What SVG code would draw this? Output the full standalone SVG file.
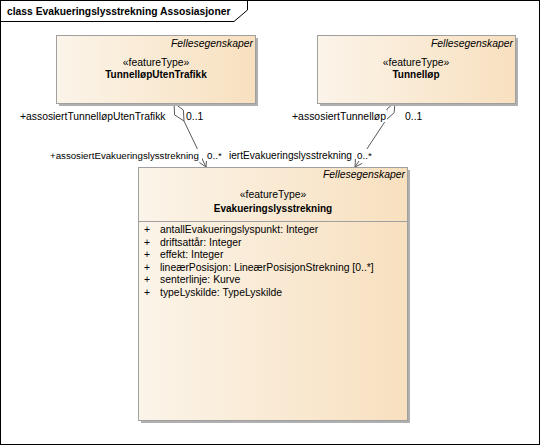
<svg xmlns="http://www.w3.org/2000/svg" width="541" height="446" viewBox="0 0 541 446">
<style>
text{font-family:"Liberation Sans",Arial,sans-serif;font-size:10.4px;fill:#000}
.b{font-weight:bold;font-size:10px}
.t{font-weight:bold;font-size:10.3px}
.i{font-style:italic;text-anchor:end}
.c{text-anchor:middle}
.box{fill:url(#g);stroke:#a0a0a0;stroke-width:1}
.sh{fill:#b0b0b0}
.ln{fill:none;stroke:#5a5a5a;stroke-width:1}
.dm{fill:#fff;stroke:#5a5a5a;stroke-width:1}
.bg{fill:#fff}
</style>
<defs>
<linearGradient id="g" x1="0" y1="0" x2="1" y2="0">
<stop offset="0" stop-color="#fbf4e9"/>
<stop offset="1" stop-color="#f8e0bf"/>
</linearGradient>
</defs>
<rect x="0.5" y="0.5" width="539" height="444" fill="#fff" stroke="#000" stroke-width="1"/>
<path d="M0.5,21.5 H234 L247.5,10 V0.5" fill="none" stroke="#000" stroke-width="1"/>
<text class="t" x="7" y="15">class Evakueringslysstrekning Assosiasjoner</text>

<g id="connectors">
<g id="c1">
<polygon class="dm" points="174,103 183.4,110.1 184,121 174.6,114.9"/>
<line class="ln" x1="184" y1="121" x2="206" y2="167"/>
<polyline class="ln" points="206.6,159 206,167 199.4,162.5"/>
</g>
<g id="c2">
<polygon class="dm" points="395,102 394.1,112.8 386,120 386.9,109.2"/>
<line class="ln" x1="386" y1="120" x2="355" y2="167"/>
<polyline class="ln" points="362.2,163.4 355,167 355.5,159"/>
</g>
<g id="labels">
<rect class="bg" x="19" y="110" width="148" height="12"/>
<text x="20" y="120" textLength="145.5" lengthAdjust="spacingAndGlyphs">+assosiertTunnelløpUtenTrafikk</text>
<rect class="bg" x="185" y="110" width="20" height="12"/>
<text x="186" y="120">0..1</text>
<rect class="bg" x="291" y="110" width="96" height="12"/>
<text x="292" y="120" textLength="94" lengthAdjust="spacingAndGlyphs">+assosiertTunnelløp</text>
<rect class="bg" x="404" y="110" width="20" height="12"/>
<text x="405" y="120">0..1</text>
<rect class="bg" x="228" y="149" width="124" height="12"/>
<text x="229" y="159" style="font-size:10.1px">iertEvakueringslysstrekning</text>
<rect class="bg" x="49" y="149" width="153" height="12"/>
<text x="50" y="159" style="font-size:9.7px">+assosiertEvakueringslysstrekning</text>
<rect class="bg" x="206" y="149" width="20" height="12"/>
<text x="207" y="159" style="font-size:9.8px">0..*</text>
<rect class="bg" x="356" y="149" width="20" height="12"/>
<text x="357" y="159" style="font-size:9.8px">0..*</text>
</g>
</g>

<g id="TunnelloepUtenTrafikk">
<rect class="sh" x="59" y="38" width="199" height="68"/>
<rect class="box" x="56.5" y="35.5" width="199" height="68"/>
<text class="i" x="253" y="47">Fellesegenskaper</text>
<text class="c" x="156" y="66">«featureType»</text>
<text class="b c" x="156" y="78">TunnelløpUtenTrafikk</text>
</g>

<g id="Tunnelloep">
<rect class="sh" x="320" y="38" width="198" height="68"/>
<rect class="box" x="317.5" y="35.5" width="198" height="68"/>
<text class="i" x="513" y="47">Fellesegenskaper</text>
<text class="c" x="416" y="66">«featureType»</text>
<text class="b c" x="416" y="78">Tunnelløp</text>
</g>

<g id="Evakueringslysstrekning">
<rect class="sh" x="141" y="170" width="269" height="253"/>
<rect class="box" x="138.5" y="167.5" width="269" height="253"/>
<text class="i" x="405" y="178">Fellesegenskaper</text>
<text class="c" x="273" y="198">«featureType»</text>
<text class="b c" x="273" y="212">Evakueringslysstrekning</text>
<line x1="138.5" y1="221.5" x2="407.5" y2="221.5" stroke="#a0a0a0"/>
<text x="144" y="233">+</text><text x="160" y="233">antallEvakueringslyspunkt: Integer</text>
<text x="144" y="246">+</text><text x="160" y="246">driftsattår: Integer</text>
<text x="144" y="258">+</text><text x="160" y="258">effekt: Integer</text>
<text x="144" y="271">+</text><text x="160" y="271">lineærPosisjon: LineærPosisjonStrekning [0..*]</text>
<text x="144" y="283">+</text><text x="160" y="283">senterlinje: Kurve</text>
<text x="144" y="296">+</text><text x="160" y="296">typeLyskilde: TypeLyskilde</text>
</g>
</svg>
